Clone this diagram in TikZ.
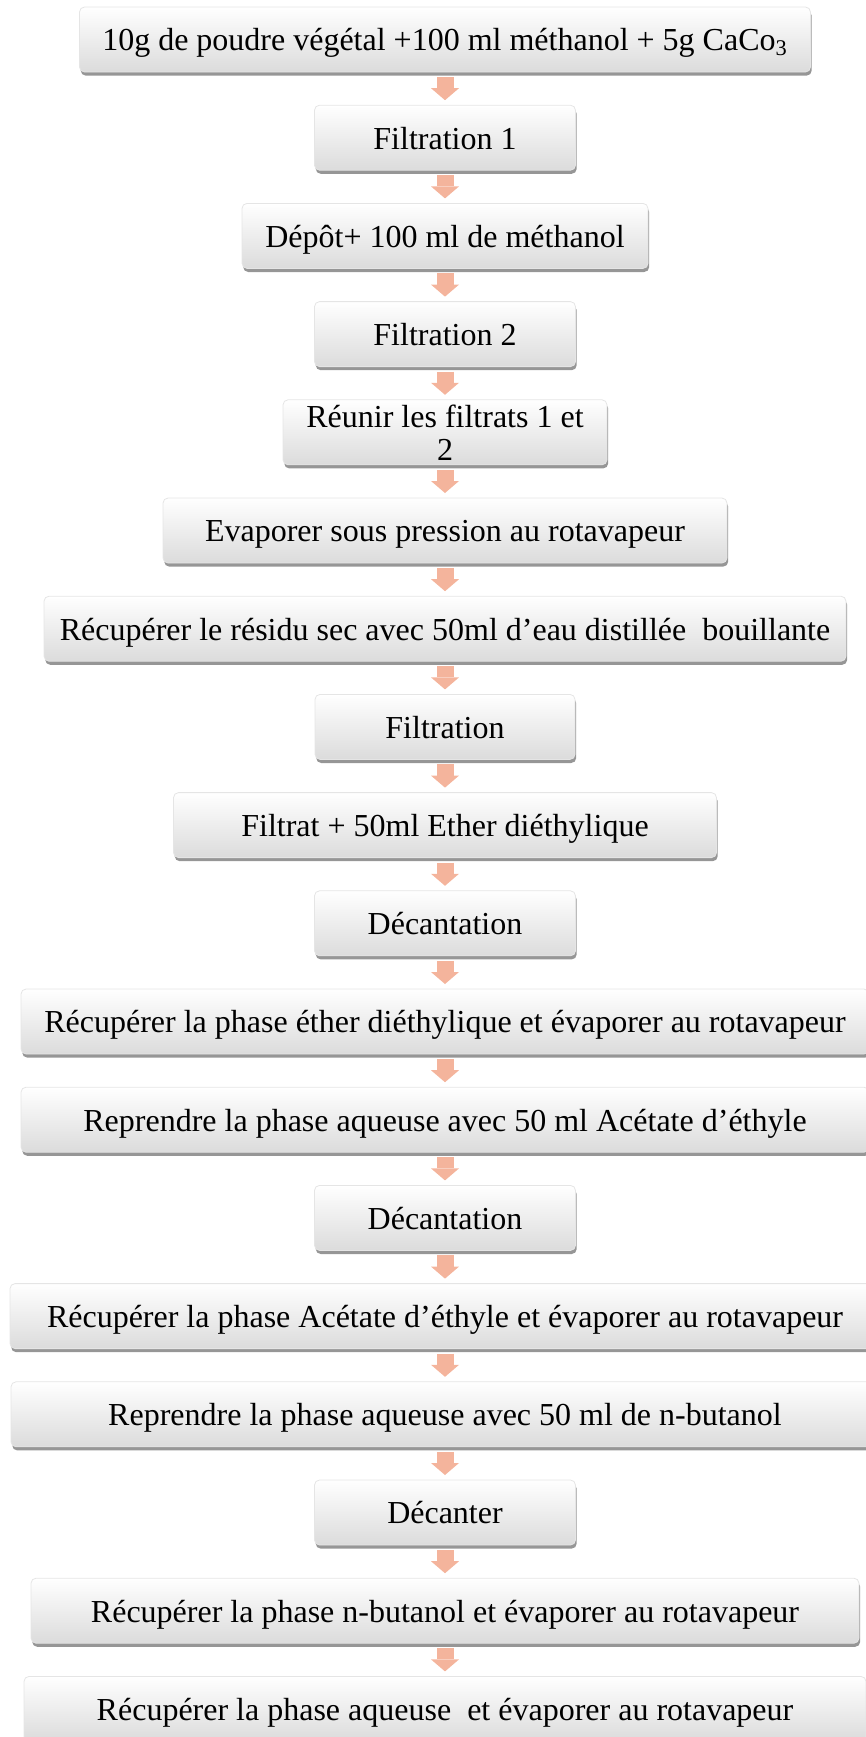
\documentclass[tikz,border=0pt]{standalone}
\usepackage{fontspec}
\setmainfont{Liberation Serif}
\usepackage{tikz}
\usetikzlibrary{positioning,shadows,arrows.meta}
\definecolor{saumon}{RGB}{244,180,156}

\begin{document}
\begin{tikzpicture}[
	node distance=16.6pt,
	etape/.style={rectangle, rounded corners=2.5pt, draw=black!10,
		top color=white, bottom color=black!14,
		drop shadow={shadow xshift=0.6pt, shadow yshift=-1.8pt, fill=black!75, opacity=.55},
		minimum height=32.5pt, inner ysep=1.5pt, outer sep=0pt,
		text height=12.3pt, text depth=1pt,
		font=\fontsize{16pt}{16.5pt}\selectfont},
	fleche/.style={draw=saumon, line width=8.5pt, shorten <=2.5pt, shorten >=2.5pt,
		-{Triangle[width=14pt,length=6pt,line width=0pt]}}
]
\useasboundingbox (0,0) rectangle (433pt,-868.5pt);

\node[etape, minimum width=365.5pt] (poudre) at (222.5pt,-19.75pt)
	{10g de poudre végétal +100 ml méthanol + 5g CaCo\textsubscript{3}};
\node[etape, minimum width=130.5pt, below=of poudre] (filt1) {Filtration 1};
\node[etape, minimum width=203pt, below=of filt1] (depot) {Dépôt+ 100 ml de méthanol};
\node[etape, minimum width=130.5pt, below=of depot] (filt2) {Filtration 2};
\node[etape, minimum width=162pt, align=center, text height={}, text depth={},
	below=of filt2] (reunir) {Réunir les filtrats 1 et\\ 2};
\node[etape, minimum width=282pt, below=of reunir] (evap) {Evaporer sous pression au rotavapeur};
\node[etape, minimum width=401pt, below=of evap] (residu)
	{Récupérer le résidu sec avec 50ml d’eau distillée~ bouillante};
\node[etape, minimum width=130pt, below=of residu] (filt3) {Filtration};
\node[etape, minimum width=271.5pt, below=of filt3] (filtrat) {Filtrat + 50ml Ether diéthylique};
\node[etape, minimum width=130.5pt, below=of filtrat] (decant1) {Décantation};
\node[etape, minimum width=424pt, below=of decant1] (ether)
	{Récupérer la phase éther diéthylique et évaporer au rotavapeur};
\node[etape, minimum width=424pt, below=of ether] (aq1)
	{Reprendre la phase aqueuse avec 50 ml Acétate d’éthyle};
\node[etape, minimum width=130.5pt, below=of aq1] (decant2) {Décantation};
\node[etape, minimum width=435pt, below=of decant2] (acetate)
	{Récupérer la phase Acétate d’éthyle et évaporer au rotavapeur};
\node[etape, minimum width=434pt, below=of acetate] (aq2)
	{Reprendre la phase aqueuse avec 50 ml de n-butanol};
\node[etape, minimum width=130.5pt, below=of aq2] (decanter) {Décanter};
\node[etape, minimum width=414pt, below=of decanter] (butanol)
	{Récupérer la phase n-butanol et évaporer au rotavapeur};
\node[etape, minimum width=421pt, below=of butanol] (aqueuse)
	{Récupérer la phase aqueuse~ et évaporer au rotavapeur};

\draw[fleche] (poudre) -- (filt1);
\draw[fleche] (filt1) -- (depot);
\draw[fleche] (depot) -- (filt2);
\draw[fleche] (filt2) -- (reunir);
\draw[fleche] (reunir) -- (evap);
\draw[fleche] (evap) -- (residu);
\draw[fleche] (residu) -- (filt3);
\draw[fleche] (filt3) -- (filtrat);
\draw[fleche] (filtrat) -- (decant1);
\draw[fleche] (decant1) -- (ether);
\draw[fleche] (ether) -- (aq1);
\draw[fleche] (aq1) -- (decant2);
\draw[fleche] (decant2) -- (acetate);
\draw[fleche] (acetate) -- (aq2);
\draw[fleche] (aq2) -- (decanter);
\draw[fleche] (decanter) -- (butanol);
\draw[fleche] (butanol) -- (aqueuse);
\end{tikzpicture}
\end{document}
